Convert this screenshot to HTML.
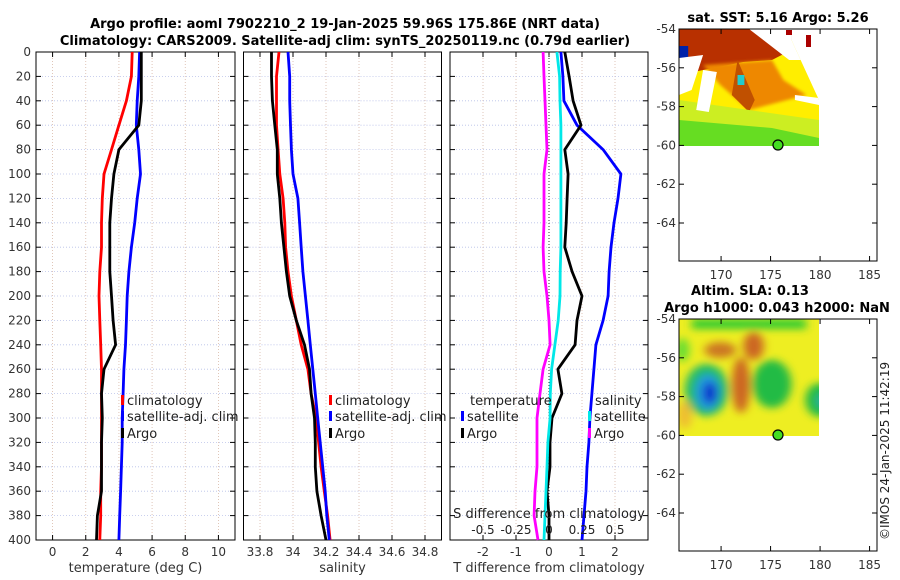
<!DOCTYPE html>
<html><head><meta charset="utf-8">
<style>
body{margin:0;background:#fff;}
svg{display:block;font-family:"DejaVu Sans","Liberation Sans",sans-serif;}
</style></head>
<body>
<svg id="fig" width="900" height="580" viewBox="0 0 900 580" xmlns="http://www.w3.org/2000/svg">
<defs>
<filter id="blur4" x="-50%" y="-50%" width="200%" height="200%"><feGaussianBlur stdDeviation="4"/></filter>
<filter id="blur2" x="-50%" y="-50%" width="200%" height="200%"><feGaussianBlur stdDeviation="1.5"/></filter>
<clipPath id="sstclip"><polygon points="679,29 777,29 777,40 801,100 801,146 679,146"/></clipPath>
<clipPath id="slaclip"><rect x="679" y="319" width="122" height="117"/></clipPath>
</defs>
<text x="345" y="28" font-size="13" font-weight="bold" text-anchor="middle">Argo profile: aoml 7902210_2 19-Jan-2025 59.96S 175.86E (NRT data)</text>
<text x="345" y="45" font-size="13" font-weight="bold" text-anchor="middle">Climatology: CARS2009. Satellite-adj clim: synTS_20250119.nc (0.79d earlier)</text>
<g id="plots"></g>

<!-- SST map -->
<g>
<text x="778" y="22" font-size="13" font-weight="bold" text-anchor="middle">sat. SST: 5.16 Argo: 5.26</text>
<g transform="translate(679,0) scale(1.1475,1) translate(-679,0)">
<g clip-path="url(#sstclip)">
<rect x="679" y="29" width="122" height="117" fill="#ffee00"/>
<polygon points="679,29 777,29 777,50 760,60 735,62 700,70 679,75" fill="#b83000"/>
<polygon points="700,65 760,60 770,80 790,95 740,110 715,85" fill="#ee8800" filter="url(#blur2)"/>
<polygon points="730,60 745,100 740,112 725,95" fill="#c05000"/>
<polygon points="679,100 801,120 801,146 679,146" fill="#ccee22"/>
<polygon points="679,120 760,128 801,138 801,146 679,146" fill="#66dd22"/>
<rect x="679" y="46" width="8" height="12" fill="#0022aa"/>
<rect x="730" y="75" width="6" height="10" fill="#22cccc"/>
<polygon points="740,29 801,29 801,45 790,60 775,60" fill="#fff"/>
<polygon points="679,58 700,55 690,90 679,95" fill="#fff"/>
<polygon points="700,70 712,72 705,112 694,110" fill="#fff"/>
<polygon points="780,95 801,98 801,105 780,100" fill="#fff"/>
</g>
</g>
<rect x="786" y="30" width="6" height="5" fill="#aa0000"/>
<rect x="806" y="35" width="5" height="12" fill="#aa0000"/>
<rect x="679" y="29" width="198" height="232" fill="none" stroke="#000"/>
<circle cx="778" cy="145" r="5" fill="#44dd22" stroke="#000" stroke-width="1.2"/>
</g>
<!-- SLA map -->
<g>
<text x="750" y="295" font-size="13" font-weight="bold" text-anchor="middle">Altim. SLA: 0.13</text>
<text x="777" y="312" font-size="13" font-weight="bold" text-anchor="middle">Argo h1000: 0.043 h2000: NaN</text>
<g transform="translate(679,0) scale(1.1475,1) translate(-679,0)">
<g clip-path="url(#slaclip)">
<rect x="679" y="319" width="122" height="117" fill="#eeee22"/>
<g filter="url(#blur4)">
<rect x="690" y="319" width="100" height="10" fill="#33cc33"/>
<ellipse cx="715" cy="350" rx="14" ry="8" fill="#cc7722"/>
<ellipse cx="744" cy="346" rx="9" ry="14" fill="#cc6622"/>
<ellipse cx="733" cy="385" rx="8" ry="28" fill="#cc6622"/>
<ellipse cx="703" cy="390" rx="19" ry="26" fill="#22bb66"/>
<ellipse cx="704" cy="392" rx="11" ry="18" fill="#2299dd"/>
<ellipse cx="706" cy="393" rx="6" ry="11" fill="#1133cc"/>
<ellipse cx="760" cy="384" rx="17" ry="24" fill="#22bb44"/>
<ellipse cx="802" cy="400" rx="13" ry="17" fill="#22bb44"/>
<ellipse cx="804" cy="401" rx="5" ry="7" fill="#33aaaa"/>
<ellipse cx="682" cy="350" rx="6" ry="12" fill="#66dd33"/>
<ellipse cx="684" cy="415" rx="6" ry="14" fill="#eebb33"/>
</g>
</g>
</g>
<rect x="679" y="319" width="198" height="232" fill="none" stroke="#000"/>
<circle cx="778" cy="435" r="5" fill="#44dd22" stroke="#000" stroke-width="1.2"/>
<text transform="translate(889,540) rotate(-90)" font-size="12" fill="#222">©IMOS 24-Jan-2025 11:42:19</text>
</g>
<g id="maps"></g>
</svg>
<script>
// ---- data ----
const depths = [0,20,40,60,80,100,120,140,160,180,200,220,240,260,280,300,320,340,360,380,400];
const tempClim = [4.8,4.75,4.45,4.0,3.55,3.1,3.0,2.95,2.95,2.85,2.8,2.85,2.9,2.95,2.95,2.95,2.95,2.95,2.9,2.9,2.85];
const tempArgo = [5.35,5.35,5.35,5.2,4.0,3.7,3.55,3.45,3.45,3.45,3.55,3.65,3.8,3.1,2.95,3.0,2.95,2.95,2.95,2.7,2.65];
const tempSat = [5.25,5.2,5.1,5.05,5.2,5.3,5.1,4.95,4.75,4.6,4.5,4.45,4.4,4.3,4.25,4.2,4.2,4.15,4.1,4.05,4.0];
const salClim = [33.915,33.9,33.9,33.9,33.91,33.92,33.94,33.95,33.955,33.97,33.99,34.02,34.05,34.09,34.11,34.14,34.155,34.17,34.19,34.21,34.225];
const salArgo = [33.87,33.87,33.875,33.89,33.905,33.905,33.92,33.93,33.945,33.96,33.98,34.02,34.07,34.1,34.11,34.13,34.135,34.135,34.145,34.17,34.2];
const salSat = [33.97,33.98,33.98,33.985,33.99,34.0,34.03,34.04,34.05,34.06,34.075,34.09,34.105,34.12,34.135,34.15,34.165,34.18,34.195,34.205,34.22];
const tDiffSat = [0.36,0.42,0.45,0.85,1.64,2.18,2.09,1.97,1.88,1.82,1.79,1.64,1.42,1.36,1.30,1.24,1.21,1.15,1.12,1.06,1.0];
const tDiffArgo = [0.48,0.61,0.73,0.97,0.48,0.58,0.55,0.52,0.48,0.70,1.0,0.85,0.79,0.27,0.39,0.09,0.03,0.03,-0.06,0.0,0.0];
const sDiffSat = [0.06,0.08,0.083,0.09,0.09,0.09,0.09,0.09,0.09,0.085,0.083,0.07,0.045,0.02,0.01,0.008,-0.008,-0.015,-0.023,-0.03,-0.038];
const sDiffArgo = [-0.045,-0.038,-0.03,-0.023,-0.015,-0.038,-0.038,-0.038,-0.045,-0.038,-0.015,0.0,0.008,-0.045,-0.068,-0.091,-0.091,-0.091,-0.106,-0.113,-0.083];
const depthTicks = [0,20,40,60,80,100,120,140,160,180,200,220,240,260,280,300,320,340,360,380,400];
const tempTicks = [0,2,4,6,8,10];
const salTicks = [33.8,34,34.2,34.4,34.6,34.8];
const salTickLabels = ["33.8","34","34.2","34.4","34.6","34.8"];
const tdTicks = [-2,-1,0,1,2];
const sdTicks = [-0.5,-0.25,0,0.25,0.5];
const sdTickLabels = ["-0.5","-0.25","0","0.25","0.5"];
const lonTicks=[170,175,180,185];
const latTicks=[-54,-56,-58,-60,-62,-64];

const NS="http://www.w3.org/2000/svg";
const g=document.getElementById('plots');
function mk(tag,attrs,parent){const e=document.createElementNS(NS,tag);for(const k in attrs)e.setAttribute(k,attrs[k]);(parent||g).appendChild(e);return e;}
const Y0=52,Y1=540;
const yScale=d=>Y0+(d/400)*(Y1-Y0);

function panel(name,x0,x1,vmin,vmax,ticks,labels,title,leftLabels){
  const xs=v=>x0+(v-vmin)/(vmax-vmin)*(x1-x0);
  const pg=mk('g',{});
  
  
  ticks.forEach((t,i)=>{
    const gx=mk('line',{x1:xs(t),x2:xs(t),y1:Y0,y2:Y1,stroke:'#d8b8a8','stroke-width':0.8,'stroke-dasharray':'1,2'},pg);
    
    
    mk('line',{x1:xs(t),x2:xs(t),y1:Y1,y2:Y1-5,stroke:'#000'},pg);
    mk('line',{x1:xs(t),x2:xs(t),y1:Y0,y2:Y0+5,stroke:'#000'},pg);
    const tl=mk('text',{x:xs(t),y:556,'font-size':12,'text-anchor':'middle',fill:'#333'},pg);
    tl.textContent=labels[i];
    
    
  });
  depthTicks.forEach(d=>{
    const gy=mk('line',{x1:x0,x2:x1,y1:yScale(d),y2:yScale(d),stroke:'#b8c0e8',"stroke-width":0.8,'stroke-dasharray':'1,2'},pg);
    
    
    mk('line',{x1:x0,x2:x0+5,y1:yScale(d),y2:yScale(d),stroke:'#000'},pg);
    mk('line',{x1:x1,x2:x1-5,y1:yScale(d),y2:yScale(d),stroke:'#000'},pg);
    if(leftLabels){
      const yl=mk('text',{x:x0-5,y:yScale(d)+4,'font-size':12,'text-anchor':'end',fill:'#333'},pg);
      yl.textContent=d;
      
      
    }
  });
  const fr=mk('rect',{x:x0,y:Y0,width:x1-x0,height:Y1-Y0,fill:'none',stroke:'#000'},pg);
  
  
  const at=mk('text',{x:(x0+x1)/2,y:572,'font-size':13,'text-anchor':'middle',fill:'#333'},pg);
  at.textContent=title;
  
  
  return {xs,pg};
}
function line(p,vals,color,name,scale){
  const pts=vals.map((v,i)=>p.xs(v*(scale||1)).toFixed(1)+','+yScale(depths[i]).toFixed(1)).join(' ');
  const l=mk('polyline',{points:pts,fill:'none',stroke:color,'stroke-width':2.8,'stroke-linejoin':'round'},p.pg);
  
  
}
function legend(p,x,y,color,label){
  if(color){const b=mk('rect',{x:x,y:y-10,width:3,height:10,fill:color},p.pg);
    
    }
  const t=mk('text',{x:x+6,y:y,'font-size':13,fill:'#222'},p.pg);
  t.textContent=label;
  
  
}

const p1=panel('temperature-panel',36,235,-1,11,tempTicks,tempTicks.map(String),'temperature (deg C)',true);
line(p1,tempClim,'#ff0000','temp-climatology-line');
line(p1,tempSat,'#0000ff','temp-satellite-line');
line(p1,tempArgo,'#000000','temp-argo-line');
legend(p1,121,405,'#ff0000','climatology');
legend(p1,121,421,'#0000ff','satellite-adj. clim');
legend(p1,121,438,'#000000','Argo');

const p2=panel('salinity-panel',243.5,441.5,33.7,34.9,salTicks,salTickLabels,'salinity',false);
line(p2,salClim,'#ff0000','sal-climatology-line');
line(p2,salSat,'#0000ff','sal-satellite-line');
line(p2,salArgo,'#000000','sal-argo-line');
legend(p2,329,405,'#ff0000','climatology');
legend(p2,329,421,'#0000ff','satellite-adj. clim');
legend(p2,329,438,'#000000','Argo');

const p3=panel('difference-panel',450,648,-3,3,tdTicks,tdTicks.map(String),'T difference from climatology',false);
const zl=mk('line',{x1:p3.xs(0),x2:p3.xs(0),y1:Y0,y2:Y1,stroke:'#333','stroke-width':1,'stroke-dasharray':'1,2'},p3.pg);


line(p3,tDiffSat,'#0000ff','tdiff-satellite-line');
line(p3,tDiffArgo,'#000000','tdiff-argo-line');
line(p3,sDiffSat,'#00e8e8','sdiff-satellite-line',4);
line(p3,sDiffArgo,'#ff00ff','sdiff-argo-line',4);
legend(p3,464,405,null,'temperature');
legend(p3,461,421,'#0000ff','satellite');
legend(p3,461,438,'#000000','Argo');
legend(p3,589,405,null,'salinity');
legend(p3,588,421,'#00e8e8','satellite');
legend(p3,588,438,'#ff00ff','Argo');
const st=mk('text',{x:549,y:518,'font-size':13,'text-anchor':'middle',fill:'#222'},p3.pg);
st.textContent='S difference from climatology';


sdTicks.forEach((s,i)=>{
  const t=mk('text',{x:p3.xs(s*4),y:534,'font-size':12,'text-anchor':'middle',fill:'#222'},p3.pg);
  t.textContent=sdTickLabels[i];
  
  
});

// map axes
const mg=document.getElementById('maps');
function mapAxes(ytop,name){
  const lx=lon=>679+(lon-165.75)*9.9;
  const ly=lat=>ytop+(-54-lat)*19.4;
  lonTicks.forEach(l=>{
    mk('line',{x1:lx(l),x2:lx(l),y1:ytop+232,y2:ytop+227,stroke:'#000'},mg);
    mk('line',{x1:lx(l),x2:lx(l),y1:ytop,y2:ytop+5,stroke:'#000'},mg);
    const t=mk('text',{x:lx(l),y:ytop+250,'font-size':12,'text-anchor':'middle',fill:'#333'},mg);
    t.textContent=l;
    
    
  });
  latTicks.forEach(l=>{
    mk('line',{x1:679,x2:684,y1:ly(l),y2:ly(l),stroke:'#000'},mg);
    mk('line',{x1:877,x2:872,y1:ly(l),y2:ly(l),stroke:'#000'},mg);
    const t=mk('text',{x:676,y:ly(l)+4,'font-size':12,'text-anchor':'end',fill:'#333'},mg);
    t.textContent=l;
    
    
  });
}
mapAxes(29,'sst-map');
mapAxes(319,'sla-map');
</script>
</body></html>
